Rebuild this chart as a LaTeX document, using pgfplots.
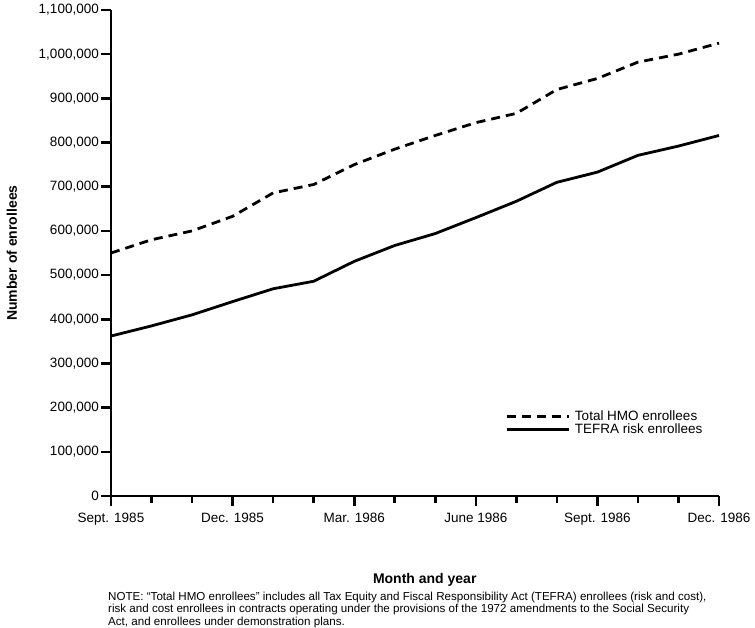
\documentclass[border=0pt]{standalone}
\usepackage{fontspec}
\setmainfont{Liberation Sans}
\usepackage{pgfplots}
\pgfplotsset{compat=1.18}
\begin{document}
\begin{tikzpicture}
\useasboundingbox (-111pt,-132pt) rectangle (644pt,496pt);
\begin{axis}[
  at={(0pt,0pt)}, anchor=south west,
  scale only axis, width=608pt, height=486pt,
  axis lines=left,
  axis line style={-, line width=2.8pt},
  every tick/.style={black, line width=2.6pt},
  tick align=outside,
  major tick length=10pt, minor tick length=7pt,
  xmin=0, xmax=15, ymin=0, ymax=1100000,
  xtick={0,3,6,9,12,15},
  minor xtick={1,2,4,5,7,8,10,11,13,14},
  xticklabels={Sept. 1985, Dec. 1985, Mar. 1986, June 1986, Sept. 1986, Dec. 1986},
  ytick={0,100000,200000,300000,400000,500000,600000,700000,800000,900000,1000000,1100000},
  scaled y ticks=false,
  yticklabel={\pgfmathprintnumber[fixed,1000 sep={,},assume math mode=true]{\tick}},
  tick label style={font=\fontsize{13.5}{15}\selectfont},
  yticklabel style={inner sep=2pt},
  xticklabel style={yshift=-4pt},
  xlabel={Month and year},
  xlabel style={at={(axis description cs:0.516,-0.173)}, anchor=center, font=\bfseries\fontsize{14}{16}\selectfont},
  ylabel={Number of enrollees},
  ylabel style={at={(axis description cs:-0.163,0.5)}, anchor=center, font=\bfseries\fontsize{14}{16}\selectfont},
  clip=false,
  legend style={at={(rel axis cs:0.648,0.15)}, anchor=west, draw=none, fill=none,
    font=\fontsize{13.5}{14}\selectfont, row sep=0.5pt, inner sep=0pt,
    nodes={inner xsep=5pt, inner ysep=0.5pt}},
  legend cell align=left,
  legend image code/.code={\draw[#1] (0pt,0pt) -- (62pt,0pt);},
]
\addplot[black, line width=2.8pt, dash pattern=on 9pt off 6pt] coordinates {
  (0,550000) (1,580000) (2,600000) (3,633000) (4,686000) (5,705000)
  (6,750000) (7,785000) (8,816000) (9,845000) (10,866000) (11,920000)
  (12,945000) (13,982000) (14,1000000) (15,1025000)
};
\addlegendentry{Total HMO enrollees}
\addplot[black, line width=2.8pt] coordinates {
  (0,362000) (1,385000) (2,410000) (3,440000) (4,469000) (5,486000)
  (6,531000) (7,567000) (8,594000) (9,630000) (10,667000) (11,710000)
  (12,733000) (13,771000) (14,792000) (15,816000)
};
\addlegendentry{TEFRA risk enrollees}
\end{axis}
\node[anchor=north west, inner sep=0pt, align=left, font=\fontsize{11.6}{12.2}\selectfont] at (-3pt,-96pt)
{NOTE: “Total HMO enrollees” includes all Tax Equity and Fiscal Responsibility Act (TEFRA) enrollees (risk and cost),\\
risk and cost enrollees in contracts operating under the provisions of the 1972 amendments to the Social Security\\
Act, and enrollees under demonstration plans.};
\end{tikzpicture}
\end{document}
